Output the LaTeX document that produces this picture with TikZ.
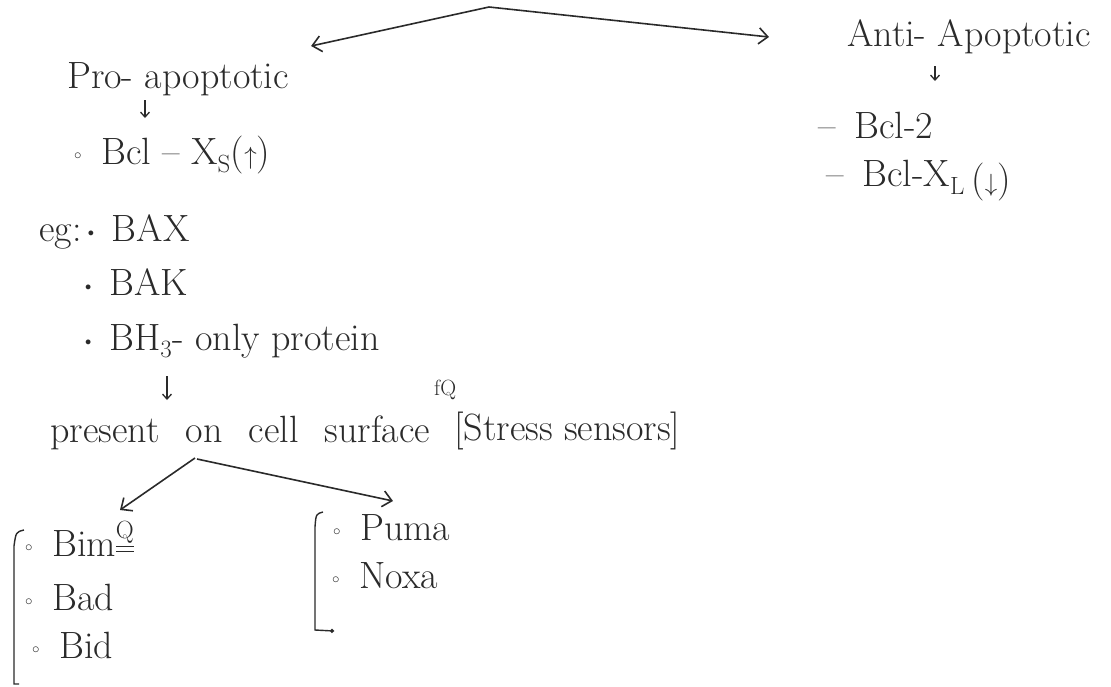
\documentclass[tikz,border=0pt]{standalone}
\usepackage{amsmath}
\usepackage{tikz}
\usetikzlibrary{arrows.meta,calc}
\definecolor{Ink}{HTML}{2A2A2A}
\newcommand{\obul}{\makebox[27pt][l]{\raisebox{0.3ex}{\scalebox{0.6}{$\circ$}}}}
\newcommand{\fbul}{\makebox[24pt][l]{\raisebox{0.3ex}{\scalebox{0.5}{$\bullet$}}}}
\newcommand{\spread}[2]{\makebox[#1][s]{#2}}

\begin{document}
\begin{tikzpicture}[
  x=1pt,y=-1pt,
  font=\fontsize{38}{44}\selectfont,
  t/.style={anchor=base west,inner sep=0pt,text=Ink},
  sm/.style={t,font=\fontsize{22}{24}\selectfont},
  ar/.style={-{Straight Barb[length=9pt,width=16pt]},draw=Ink,line width=1.6pt},
  dn/.style={-{Straight Barb[length=5pt,width=9pt]},draw=Ink,line width=1.3pt},
  br/.style={draw=Ink,line width=1.4pt},
]
% one pixel of the page is one point; y runs downwards like the page
\useasboundingbox (0,0) rectangle (1111,686);
\coordinate (apex) at (489,7);

\node[t] (pro)  at (67,88)  {Pro- apoptotic};
\node[t] (anti) at (847,46) {Anti- Apoptotic};
\node[t] (bclxs) at (74,164) {\obul Bcl -- X$_\mathrm{S}$($\uparrow$)};
\node[t] (bcltwo) at (818,138) {--\hspace{0.5em}Bcl-2};
\node[t] (bclxl) at (826,186) {--\hspace{0.5em}Bcl-X$_\mathrm{L}$\,\raisebox{-0.35ex}{($\downarrow$)}};

\node[t] (eg)  at (39,241) {eg:\,\fbul BAX};
\node[t] (bak) at (85,295) {\fbul BAK};
\node[t] (bh)  at (85,350) {\fbul BH$_3$- only protein};

\node[t] (present) at (50,442) {\spread{380pt}{present on cell surface}};
\node[sm] (fq) at (434,395) {fQ};
\node[t] (stress) at (454,440) {[Stress sensors]};

\node[t] (bim)  at (25,556) {\obul Bim$^{\underline{\underline{\mathrm{Q}}}}$};
\node[t] (bad)  at (25,610) {\obul Bad};
\node[t] (bid)  at (32,658) {\obul Bid};
\node[t] (puma) at (333,540) {\obul Puma};
\node[t] (noxa) at (332,588) {\obul Noxa};

% two-headed link over the top
\draw[ar,{Straight Barb[length=9pt,width=16pt]}-{Straight Barb[length=9pt,width=16pt]}]
  ([shift={(22,-42)}]pro.base east) -- (apex) -- ([shift={(-78,-9)}]anti.base west);

\draw[dn] ([shift={(78,12)}]pro.base west) -- ++(0,18);
\draw[dn] ([shift={(88,20)}]anti.base west) -- ++(0,15);
\draw[dn] ([shift={(82,26)}]bh.base west) -- ++(0,24);

\draw[ar] ([shift={(145,16)}]present.base west) -- ([shift={(95,-46)}]bim.base west);
\draw[ar] ([shift={(147,17)}]present.base west) -- ([shift={(60,-39)}]puma.base west);

% brackets round the two groups
\draw[br] (24,530) .. controls (16,532) .. (14,546) -- (14,684) -- (19,684);
\draw[br,-{Circle[open,length=4pt]}] (323,512) .. controls (316,514) .. (315,527) -- (315,630) -- (334,631);
\end{tikzpicture}
\end{document}
